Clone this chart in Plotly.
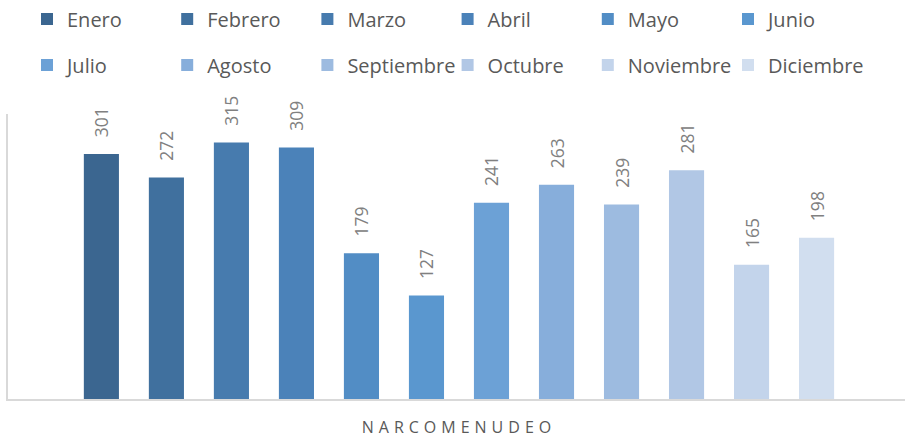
import plotly.graph_objects as go

categoria = ["NARCOMENUDEO"]
meses = ["Enero", "Febrero", "Marzo", "Abril", "Mayo", "Junio",
         "Julio", "Agosto", "Septiembre", "Octubre", "Noviembre", "Diciembre"]
valores = [301, 272, 315, 309, 179, 127, 241, 263, 239, 281, 165, 198]
colores = ["#3b6690", "#40709e", "#477bae", "#4b82b9", "#528dc5", "#5a97cf",
           "#6ca1d6", "#87aedb", "#9dbbe0", "#b1c7e5", "#c3d4eb", "#d1deef"]

fig = go.Figure()
for i, (m, v, c) in enumerate(zip(meses, valores, colores)):
    fig.add_trace(go.Bar(
        x=categoria, y=[v], name=m,
        marker=dict(color=c, line=dict(width=0)),
        texttemplate="\u00a0\u00a0\u00a0%{y}", textposition="outside", textangle=-90,
        textfont=dict(family="Open Sans", size=17.5, color="#808080"),
        cliponaxis=False, constraintext="none",
        legend="legend" if i < 6 else "legend2",
        hoverinfo="skip",
    ))

leg = dict(orientation="h", xref="container", yref="container",
           xanchor="left", yanchor="middle", x=27 / 905,
           entrywidth=95.2, entrywidthmode="pixels", itemwidth=30,
           font=dict(family="Open Sans", size=20, color="#595959"),
           bgcolor="rgba(0,0,0,0)", borderwidth=0)

fig.update_layout(
    width=905, height=438,
    margin=dict(l=8, r=0, t=114, b=39, autoexpand=False),
    barmode="group", bargap=0.135, bargroupgap=0.46,
    plot_bgcolor="white", paper_bgcolor="white",
    showlegend=True,
    legend=dict(leg, y=1 - 19 / 438),
    legend2=dict(leg, y=1 - 65 / 438),
    xaxis=dict(range=[-0.5, 0.4945], showline=True, linecolor="#d9d9d9", linewidth=1.5,
               showgrid=False, zeroline=False, ticks="", ticklabelstandoff=13,
               tickfont=dict(family="Open Sans", size=16, color="#595959")),
    yaxis=dict(range=[0, 350], showline=True, linecolor="#d9d9d9", linewidth=1.5,
               showgrid=False, zeroline=False, showticklabels=False, ticks=""),
)

post = ("var s=document.createElement('style');"
        "s.textContent='body{margin:0;overflow:hidden}.xtick text{letter-spacing:5px}';"
        "document.head.appendChild(s);")
fig.write_html("out.html", post_script=post, config={"displayModeBar": False})
